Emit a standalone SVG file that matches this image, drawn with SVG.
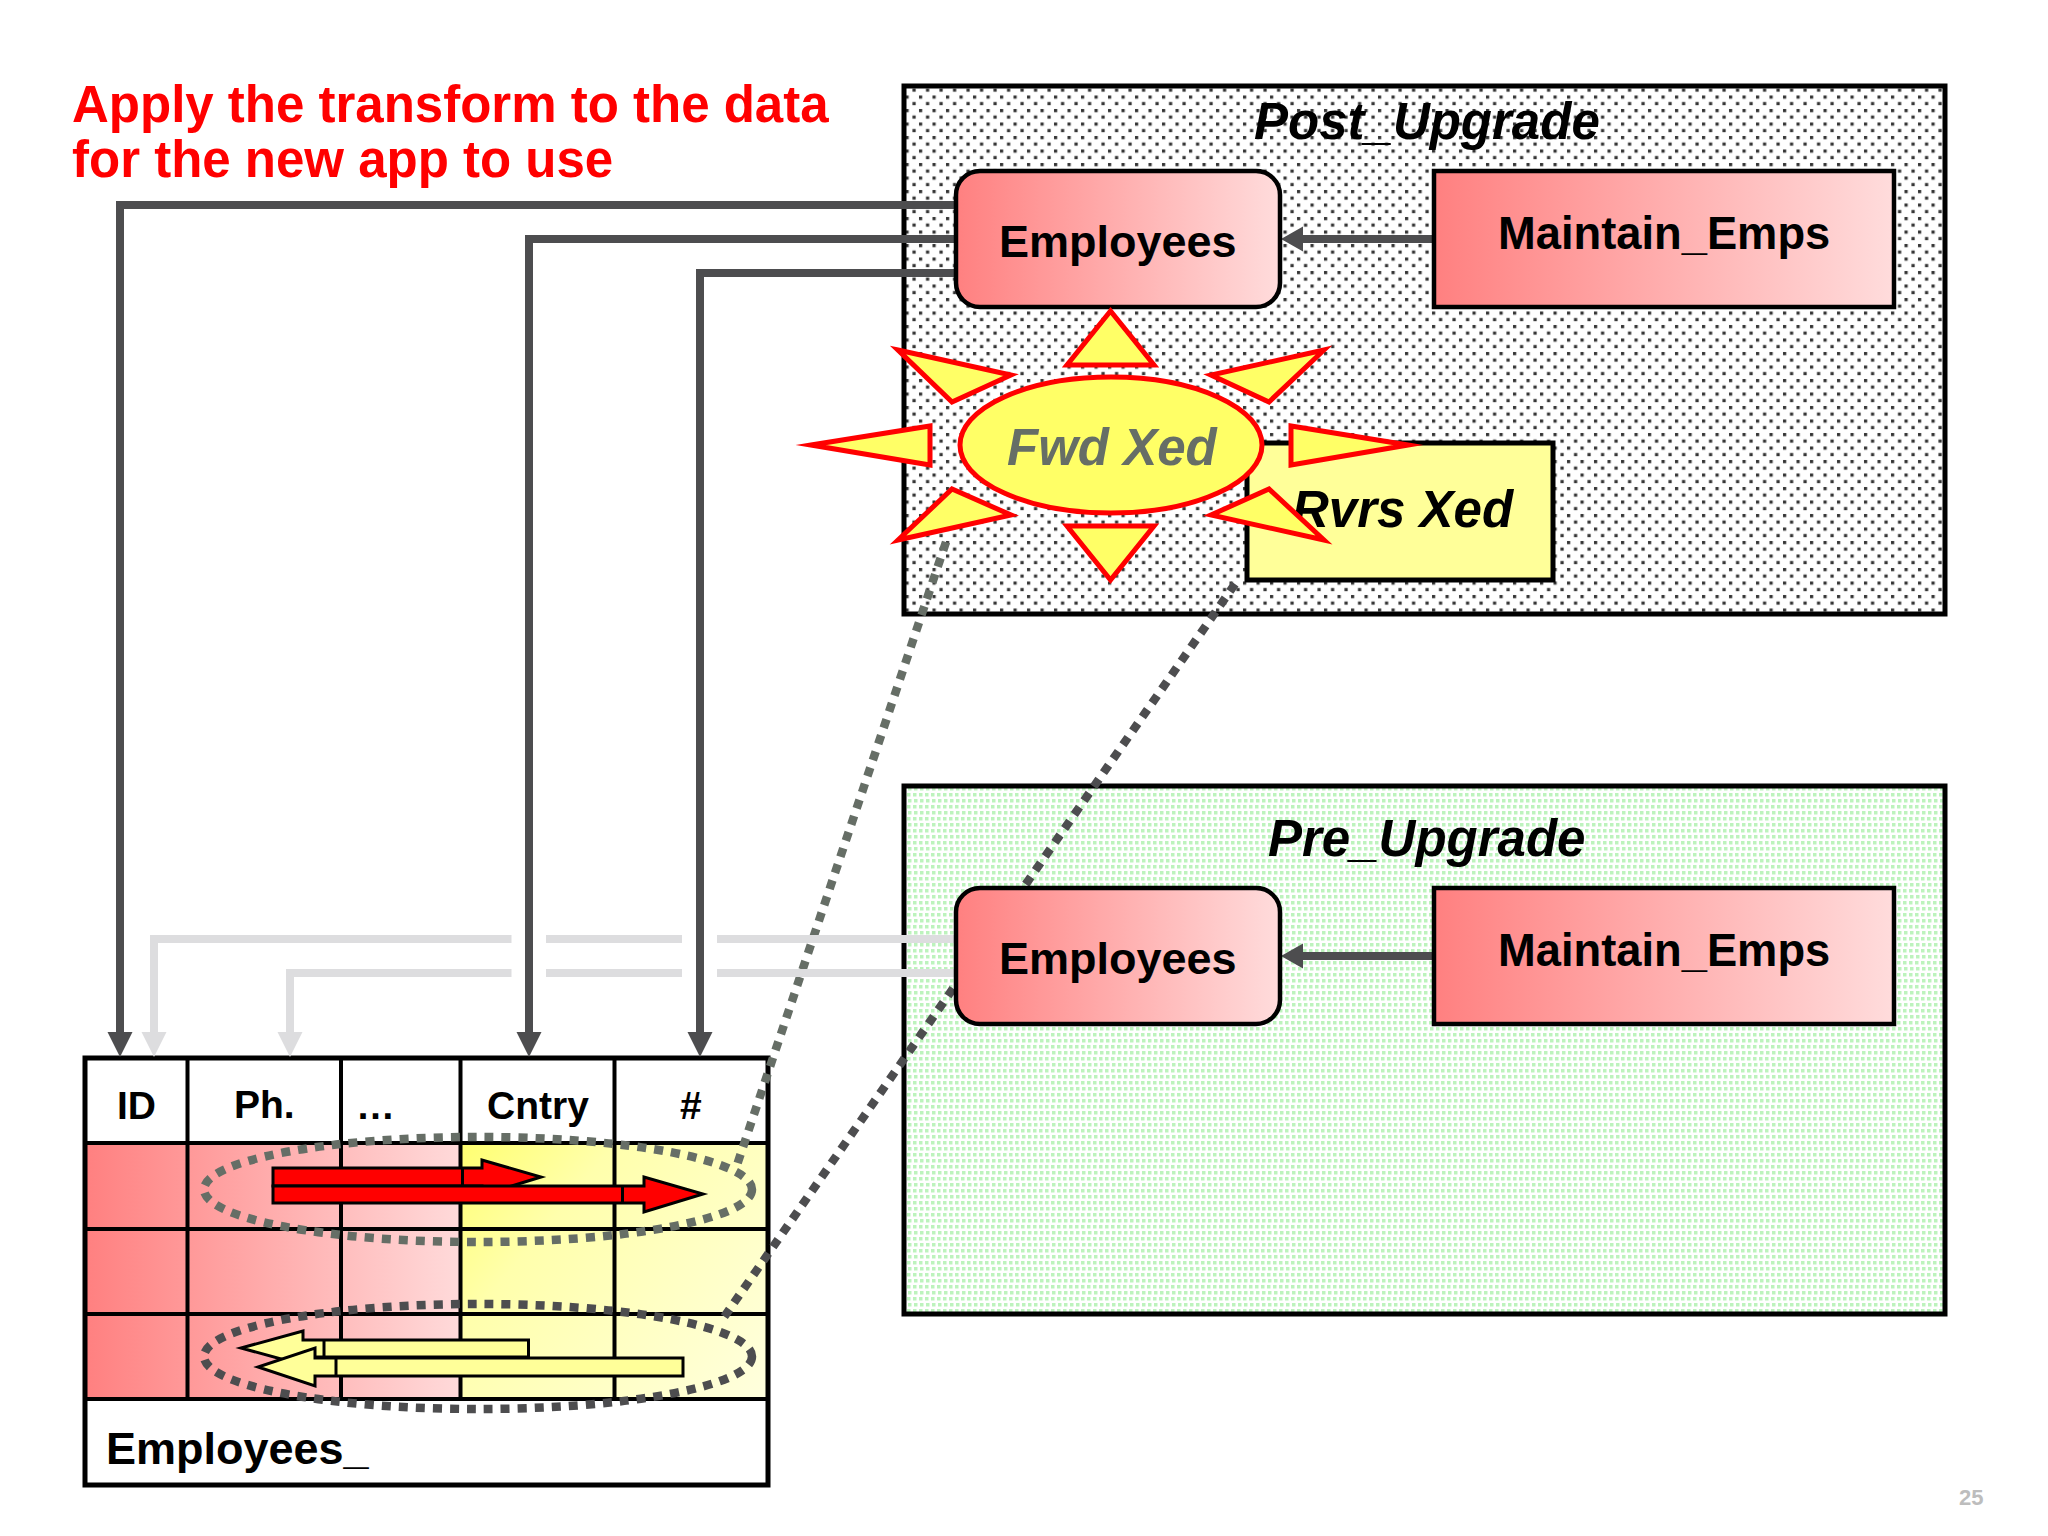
<svg xmlns="http://www.w3.org/2000/svg" width="2048" height="1536" viewBox="0 0 2048 1536">
<style>
text{font-family:"Liberation Sans",Arial,sans-serif;font-weight:bold;fill:#000}
.lbl{font-size:45px}
.maintxt{font-size:45.300px}
.ital{font-style:italic;font-size:51px}
.hdr{font-size:39px}
.title{font-size:51px;fill:#f00}
.panel{stroke:#000;stroke-width:5}
.emp{fill:url(#pink);stroke:#000;stroke-width:4.5}
.maint{fill:url(#pink);stroke:#000;stroke-width:4.5}
.dark{fill:none;stroke:#4d4d4f;stroke-width:8}
.light{fill:none;stroke:#dddddf;stroke-width:8}
.ah{fill:#4d4d4f}
.ahl{fill:#dddddf}
.ray{fill:#ffff66;stroke:#f00;stroke-width:5;stroke-miterlimit:12}
.dot{fill:none;stroke-width:8.500;stroke-dasharray:9 8}
.grid{fill:none;stroke:#000;stroke-width:4}
.red{fill:#f00;stroke:#000;stroke-width:3;stroke-miterlimit:8}
.yel{fill:#ffff99;stroke:#000;stroke-width:3;stroke-miterlimit:8}
</style>
<defs>
<pattern id="pblack" width="13.500" height="13.500" patternUnits="userSpaceOnUse"><rect width="13.500" height="13.500" fill="#fff"/><rect x="1" y="1" width="3.200" height="3.200" fill="#333"/><rect x="8" y="7.500" width="3.200" height="3.200" fill="#333"/></pattern>
<pattern id="pgreen" width="6" height="12" patternUnits="userSpaceOnUse"><rect width="6" height="12" fill="#fff"/><rect x="1" y="1" width="3.500" height="3.500" fill="#bdf3bd"/><rect x="2" y="7" width="3.500" height="3.500" fill="#bdf3bd"/></pattern>
<linearGradient id="pink"><stop offset="0" stop-color="#ff8080"/><stop offset="1" stop-color="#ffdcdc"/></linearGradient>
<linearGradient id="rowpink" gradientUnits="userSpaceOnUse" x1="85" y1="0" x2="460" y2="0"><stop offset="0" stop-color="#ff8080"/><stop offset="1" stop-color="#ffdada"/></linearGradient>
<linearGradient id="rowyel" gradientUnits="userSpaceOnUse" x1="460" y1="1143" x2="768" y2="1399"><stop offset="0" stop-color="#ffff70"/><stop offset="0.300" stop-color="#ffffac"/><stop offset="1" stop-color="#ffffde"/></linearGradient>
</defs>
<rect width="2048" height="1536" fill="#fff"/>
<text class="title" x="72" y="122">Apply the transform to the data</text>
<text class="title" x="72" y="177">for the new app to use</text>
<g id="post-upgrade"><rect class="panel" x="904" y="86" width="1041" height="528" fill="url(#pblack)"/><text class="ital" x="1254" y="139">Post_Upgrade</text></g>
<g id="pre-upgrade"><rect class="panel" x="904" y="786" width="1041" height="528" fill="url(#pgreen)"/><text class="ital" x="1268" y="856">Pre_Upgrade</text></g>
<g id="table">
<rect x="85" y="1057" width="683" height="428" fill="#fff"/>
<rect x="85" y="1143" width="375" height="256" fill="url(#rowpink)"/>
<rect x="460" y="1143" width="308" height="256" fill="url(#rowyel)"/>
<path class="grid" d="M187.500 1057V1399M341 1057V1399M460.500 1057V1399M614.500 1057V1399M85 1143H768M85 1229H768M85 1314H768M85 1399H768"/>
<rect x="85" y="1058" width="683" height="427" fill="none" stroke="#000" stroke-width="5"/>
<text class="hdr" x="117" y="1119">ID</text><text class="hdr" x="234" y="1118">Ph.</text><text class="hdr" x="356" y="1119">…</text><text class="hdr" x="487" y="1119">Cntry</text><text class="hdr" x="680" y="1119">#</text>
<text class="lbl" x="106" y="1464">Employees_</text>
</g>
<g id="data-arrows">
<path class="red" d="M273 1168H482V1160L541 1177L482 1195V1186H273Z"/><path class="red" d="M462.500 1168V1186"/>
<path class="red" d="M273 1186H644V1177L703 1194L644 1212V1203H273Z"/><path class="red" d="M622.500 1186V1203"/>
<path class="yel" d="M528.500 1340H303V1331L241 1348L303 1365V1357H528.500Z"/><path class="yel" d="M324 1340V1357"/>
<path class="yel" d="M683 1358H315V1348L258 1367L315 1386V1376H683Z"/><path class="yel" d="M336 1358V1376"/>
</g>
<g id="connectors">
<ellipse class="dot" cx="478" cy="1189.500" rx="274" ry="52.500" stroke="#666e66"/>
<ellipse class="dot" cx="478" cy="1356.500" rx="274" ry="52.500" stroke="#4d4d4f"/>
<path class="dot" stroke="#666e66" d="M946 542L737 1165"/>
<path class="dot" stroke="#4d4d4f" d="M1235 584L722 1320"/>
<path class="dark" d="M955 205H120V1034M955 239H529V1034M955 273H700V1034"/>
<path class="ah" d="M107.500 1032H132.500L120 1057ZM516.500 1032H541.500L529 1057ZM687.500 1032H712.500L700 1057Z"/>
<path class="light" d="M955 939H717M682 939H546M511.500 939H154V1034M955 973H717M682 973H546M511.500 973H290V1034"/>
<path class="ahl" d="M141.500 1032H166.500L154 1057ZM277.500 1032H302.500L290 1057Z"/>
<path class="dark" d="M1433 239H1300M1433 956H1300"/>
<path class="ah" d="M1281 239L1303 226.500V251.500ZM1281 956L1303 943.500V968.500Z"/>
</g>
<g id="employees-post"><rect class="emp" x="956" y="171" width="324" height="136" rx="24"/><text class="lbl" x="999" y="257">Employees</text></g>
<g id="maintain-post"><rect class="maint" x="1434" y="171" width="460" height="136"/><text class="maintxt" x="1498" y="249">Maintain_Emps</text></g>
<g id="rvrs-xed"><rect x="1247" y="443" width="306" height="137" fill="#ffff99" stroke="#000" stroke-width="5"/><text class="ital" x="1292" y="527">Rvrs Xed</text></g>
<g id="fwd-xed">
<polygon class="ray" points="1110.500,311 1067,365 1154,365"/>
<polygon class="ray" points="898,350 1011,375 952,402"/>
<polygon class="ray" points="1324,350 1211,375 1269,402"/>
<polygon class="ray" points="811,445 930,426 930,465"/>
<polygon class="ray" points="1408,445 1291,426 1291,465"/>
<polygon class="ray" points="898,540 1011,515 952,489"/>
<polygon class="ray" points="1324,540 1211,515 1269,489"/>
<polygon class="ray" points="1110.500,580 1067,526 1154,526"/>
<ellipse cx="1111" cy="445" rx="151" ry="68" fill="#ffff66" stroke="#f00" stroke-width="5"/>
<text class="ital" x="1007" y="465" style="fill:#666e66">Fwd Xed</text>
</g>
<g id="employees-pre"><rect class="emp" x="956" y="888" width="324" height="136" rx="24"/><text class="lbl" x="999" y="974">Employees</text></g>
<g id="maintain-pre"><rect class="maint" x="1434" y="888" width="460" height="136"/><text class="maintxt" x="1498" y="966">Maintain_Emps</text></g>
<text x="1959" y="1505" font-size="22" style="fill:#bdbdbd">25</text>
</svg>
